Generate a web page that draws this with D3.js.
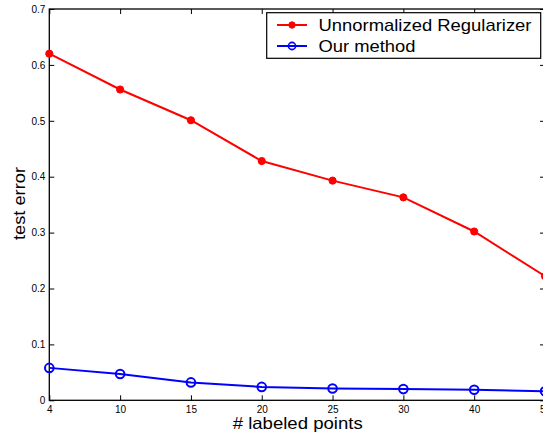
<!DOCTYPE html>
<html>
<head>
<meta charset="utf-8">
<script src="https://cdn.jsdelivr.net/npm/d3@7/dist/d3.min.js"></script>
<style>
  html, body { margin: 0; padding: 0; background: #fff; }
  svg { display: block; }
  text { font-family: "Liberation Sans", Arial, Helvetica, sans-serif; fill: #000; }
</style>
</head>
<body>
<svg id="chart" width="543" height="433"></svg>
<script>
// Number of labeled points (categorical, evenly spaced)
const labeledPoints = ["4", "10", "15", "20", "25", "30", "40", "50"];
// Test error per method
const unnormalized = [0.620, 0.556, 0.501, 0.428, 0.393, 0.363, 0.302, 0.222];
const ourMethod    = [0.058, 0.047, 0.032, 0.024, 0.021, 0.020, 0.019, 0.016];
const yTicks = [0, 0.1, 0.2, 0.3, 0.4, 0.5, 0.6, 0.7];

const seriesNames = ["Unnormalized Regularizer", "Our method"];
const seriesColors = ["#ff0000", "#0000ff"];

const svg = d3.select("#chart");
const plotLeft = 49.3, plotRight = 545, plotTop = 9, plotBottom = 400.3;

const x = d3.scalePoint().domain(labeledPoints).range([plotLeft, plotRight]);
const y = d3.scaleLinear().domain([0, 0.7]).range([plotBottom, plotTop]);

const tickLen = 5;
const ax = svg.append("g");

// Bottom axis with inward ticks
const xb = ax.append("g").attr("transform", `translate(0,${plotBottom})`)
  .call(d3.axisBottom(x).tickSizeInner(-tickLen).tickSizeOuter(0).tickPadding(4));
xb.selectAll("text").attr("font-size", 10).attr("dy", "0.9em");
// Top axis ticks
ax.append("g").attr("transform", `translate(0,${plotTop})`)
  .call(d3.axisTop(x).tickSizeInner(-tickLen).tickSizeOuter(0).tickFormat(""));
// Left axis
const yl = ax.append("g").attr("transform", `translate(${plotLeft},0)`)
  .call(d3.axisLeft(y).tickValues(yTicks).tickSizeInner(-tickLen).tickSizeOuter(0)
    .tickPadding(3).tickFormat(d => d === 0 ? "0" : d3.format(".1f")(d)));
yl.selectAll("text").attr("font-size", 10).attr("x", -4);
// Right axis ticks
ax.append("g").attr("transform", `translate(${plotRight},0)`)
  .call(d3.axisRight(y).tickValues(yTicks).tickSizeInner(-tickLen).tickSizeOuter(0).tickFormat(""));

ax.selectAll(".domain").remove();
ax.selectAll(".tick line").attr("stroke", "#000").attr("stroke-width", 1);

// Axes box
svg.append("rect")
  .attr("x", plotLeft).attr("y", plotTop)
  .attr("width", plotRight - plotLeft).attr("height", plotBottom - plotTop)
  .attr("fill", "none").attr("stroke", "#000").attr("stroke-width", 1.3);

// Series
const line = d3.line().x((d, i) => x(labeledPoints[i])).y(d => y(d));
[unnormalized, ourMethod].forEach((vals, s) => {
  svg.append("path").datum(vals)
    .attr("d", line).attr("fill", "none")
    .attr("stroke", seriesColors[s]).attr("stroke-width", 2);
  svg.selectAll(null).data(vals).enter().append("circle")
    .attr("cx", (d, i) => x(labeledPoints[i])).attr("cy", d => y(d))
    .attr("r", s === 0 ? 3.6 : 4.3)
    .attr("fill", s === 0 ? seriesColors[s] : "none")
    .attr("stroke", seriesColors[s]).attr("stroke-width", s === 0 ? 1 : 2);
});

// Axis titles
svg.append("text").attr("x", 297.7).attr("y", 429)
  .attr("text-anchor", "middle").attr("font-size", 16.5)
  .attr("textLength", 130).attr("lengthAdjust", "spacingAndGlyphs")
  .text("# labeled points");
svg.append("text").attr("transform", "translate(25,203.5) rotate(-90)")
  .attr("text-anchor", "middle").attr("font-size", 16.5)
  .attr("textLength", 73).attr("lengthAdjust", "spacingAndGlyphs")
  .text("test error");

// Legend
const lg = svg.append("g");
lg.append("rect").attr("x", 266.7).attr("y", 12.7).attr("width", 274).attr("height", 45.6)
  .attr("fill", "#fff").attr("stroke", "#000").attr("stroke-width", 1.2);
const legendWidths = [213, 97];
seriesNames.forEach((name, s) => {
  const yy = 25 + s * 21;
  lg.append("line").attr("x1", 277).attr("x2", 307).attr("y1", yy).attr("y2", yy)
    .attr("stroke", seriesColors[s]).attr("stroke-width", 2);
  lg.append("circle").attr("cx", 292).attr("cy", yy).attr("r", s === 0 ? 3.2 : 3.6)
    .attr("fill", s === 0 ? seriesColors[s] : "none")
    .attr("stroke", seriesColors[s]).attr("stroke-width", s === 0 ? 1 : 1.6);
  lg.append("text").attr("x", 318.5).attr("y", yy + 5.8).attr("font-size", 17)
    .attr("textLength", legendWidths[s]).attr("lengthAdjust", "spacingAndGlyphs")
    .text(name);
});
</script>
</body>
</html>
